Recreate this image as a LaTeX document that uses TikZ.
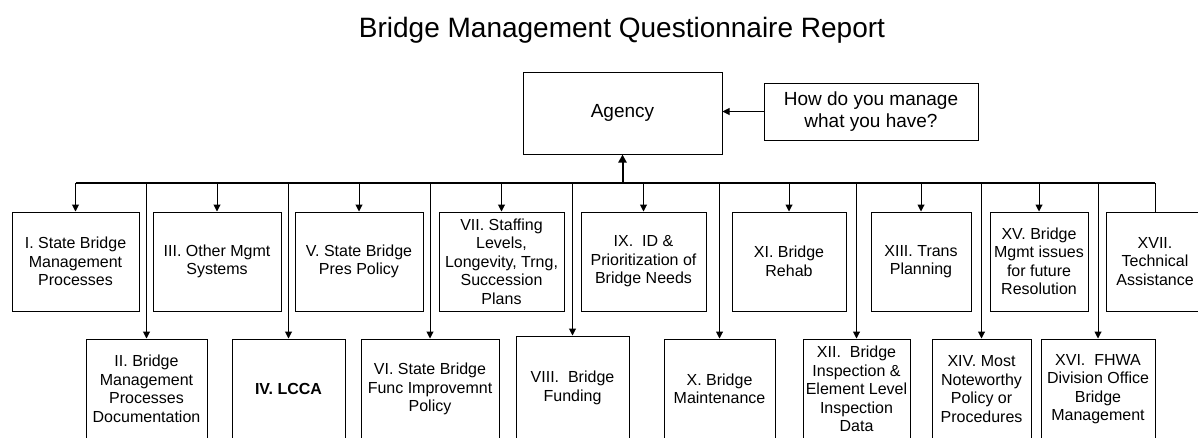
\documentclass[tikz,border=0pt]{standalone}
\usepackage{fontspec}
\setmainfont{Liberation Sans}
\usetikzlibrary{arrows.meta,positioning}
\newcommand{\boxfont}{\fontsize{16}{18.5}\selectfont}
\newcommand{\headfont}{\fontsize{19}{22}\selectfont}
\newcommand{\thinw}{1pt}
\newcommand{\busw}{2pt}

\begin{document}
\begin{tikzpicture}[x=1pt,y=-1pt,
	qbox/.style={draw,rectangle,line width=\thinw,inner sep=0pt,align=center,font=\boxfont},
	toprow/.style={qbox,minimum height=99pt},
	lowrow/.style={qbox,minimum height=100pt},
	drop/.style={line width=\thinw,-{Triangle[length=7pt,width=7pt]}},
	bus/.style={line width=\busw}]
	
	\clip (0,0) rectangle (1198,437);
	%\draw[help lines,step=50] (0,0) grid (1198,437);
	\node[anchor=base,font=\fontsize{28}{32}\selectfont] (title) at (622,37) {Bridge Management Questionnaire Report};
	
	\node[qbox,font=\headfont,minimum width=199pt,minimum height=82pt] (agency) at (622.5,113) {Agency};
	\node[qbox,font=\headfont,minimum width=214pt,minimum height=57pt] (howq) at (871,111.5) {How do you manage\\what you have?};
	\draw[drop] (howq.west) -- (howq.west -| agency.east);
	\coordinate (hub) at (622.5,183);
	\draw[bus,-{Triangle[length=8pt,width=8pt]}] (hub) -- (agency.south);
	
	% top row
	\node[toprow,minimum width=127pt] (q1) at (75.5,261.5) {I. State Bridge\\Management\\Processes};
	\node[toprow,minimum width=128pt] (q3) at (217,261.5) {III. Other Mgmt\\Systems};
	\node[toprow,minimum width=128pt] (q5) at (359,261.5) {V. State Bridge\\Pres Policy};
	\node[toprow,minimum width=125pt] (q7) at (501.5,261.5) {VII. Staffing\\Levels,\\Longevity, Trng,\\Succession\\Plans};
	\node[toprow,minimum width=125pt] (q9) at (643.5,261.5) {IX.\ \ ID \&\\Prioritization of\\Bridge Needs};
	\node[toprow,minimum width=114pt] (q11) at (789,261.5) {XI. Bridge\\Rehab};
	\node[toprow,minimum width=100pt] (q13) at (921,261.5) {XIII. Trans\\Planning};
	\node[toprow,minimum width=98pt] (q15) at (1039,261.5) {XV. Bridge\\Mgmt issues\\for future\\Resolution};
	\node[toprow,minimum width=98pt] (q17) at (1155,261.5) {XVII.\\Technical\\Assistance};
	
	% lower row
	\node[lowrow,minimum width=121pt] (q2) at (146.5,389) {II. Bridge\\Management\\Processes\\Documentation};
	\node[lowrow,minimum width=113pt,font=\boxfont\bfseries] (q4) at (288.5,389) {IV. LCCA};
	\node[lowrow,minimum width=138pt] (q6) at (430,389) {VI. State Bridge\\Func Improvemnt\\Policy};
	\node[lowrow,minimum width=113pt,minimum height=104pt] (q8) at (572.5,388) {VIII.\ \ Bridge\\Funding};
	\node[lowrow,minimum width=111pt] (q10) at (719.5,389) {X. Bridge\\Maintenance};
	\node[lowrow,minimum width=107pt] (q12) at (856.5,389) {XII.\ \ Bridge\\Inspection \&\\Element Level\\Inspection\\Data};
	\node[lowrow,minimum width=99pt] (q14) at (981.5,389) {XIV. Most\\Noteworthy\\Policy or\\Procedures};
	\node[lowrow,minimum width=114pt] (q16) at (1098,389) {XVI.\ \ FHWA\\Division Office\\Bridge\\Management};
	
	% drops from the bus
	\draw[drop] (hub -| q1) -- (q1.north);
	\draw[drop] (hub -| q3) -- (q3.north);
	\draw[drop] (hub -| q5) -- (q5.north);
	\draw[drop] (hub -| q7) -- (q7.north);
	\draw[drop] (hub -| q9) -- (q9.north);
	\draw[drop] (hub -| q11) -- (q11.north);
	\draw[drop] (hub -| q13) -- (q13.north);
	\draw[drop] (hub -| q15) -- (q15.north);
	\draw[line width=\thinw] (hub -| q17) -- (q17.north);
	
	\draw[drop] (hub -| q2) -- (q2.north);
	\draw[drop] (hub -| q4) -- (q4.north);
	\draw[drop] (hub -| q6) -- (q6.north);
	\draw[drop] (hub -| q8) -- (q8.north);
	\draw[drop] (hub -| q10) -- (q10.north);
	\draw[drop] (hub -| q12) -- (q12.north);
	\draw[drop] (hub -| q14) -- (q14.north);
	\draw[drop] (hub -| q16) -- (q16.north);
	
	\draw[bus] (hub -| q1) -- (hub -| q17);
\end{tikzpicture}
\end{document}
